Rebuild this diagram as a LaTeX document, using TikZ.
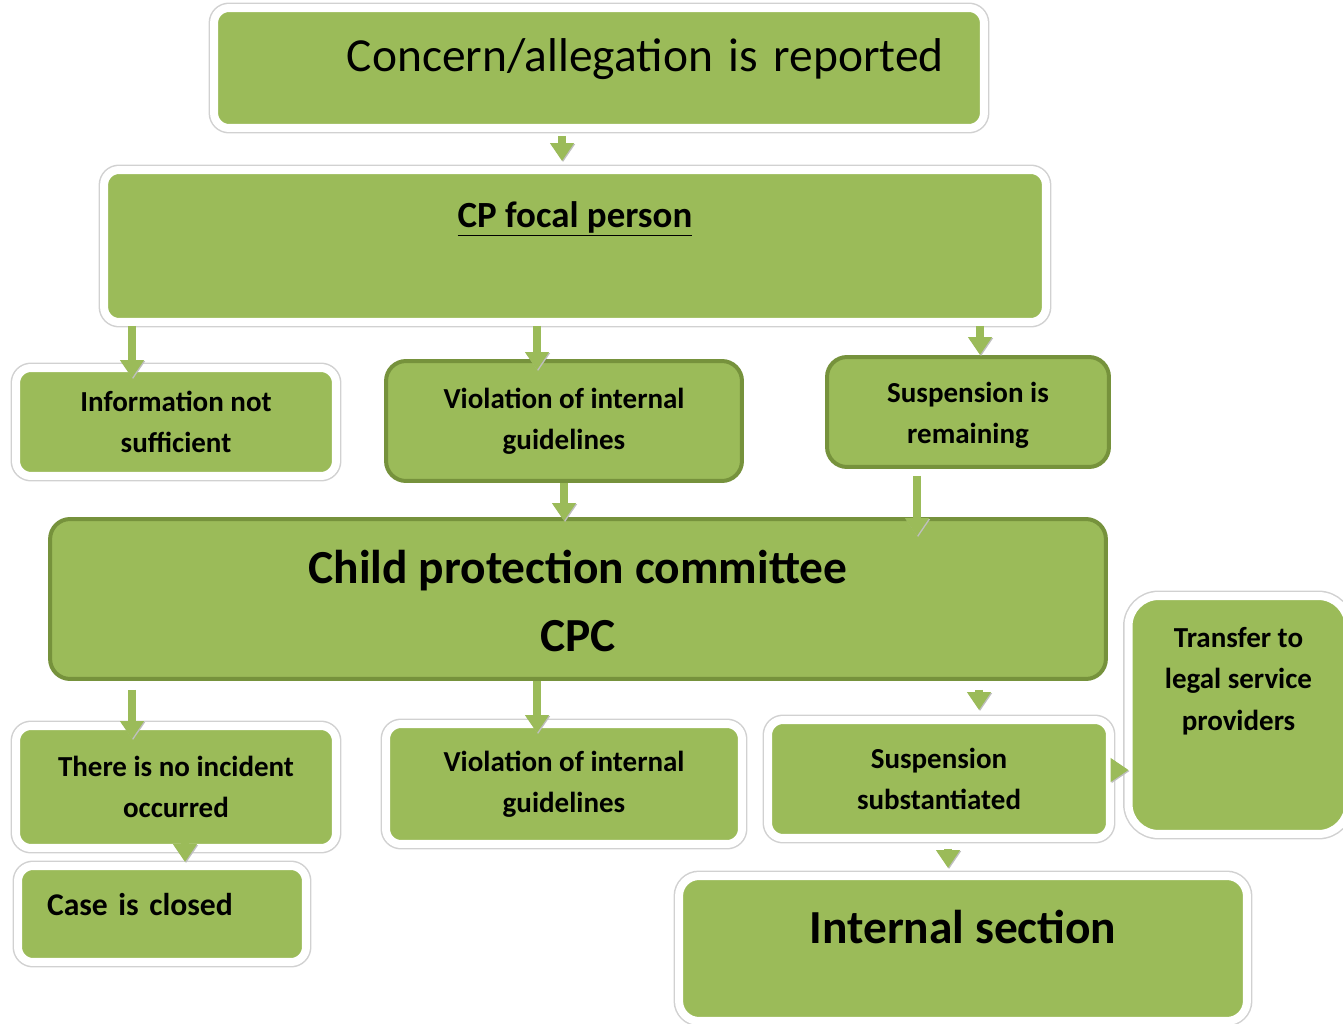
\documentclass[tikz,border=0pt]{standalone}
\usepackage{fontspec}
\setmainfont{Carlito}
\usetikzlibrary{arrows.meta}
\definecolor{boxgreen}{HTML}{9BBB59}
\definecolor{boxedge}{HTML}{76923C}
\tikzset{
  greenbox/.style={fill=boxgreen, rounded corners=0.3cm, align=center, inner sep=0pt,
    font=\fontsize{16.5}{23.5}\selectfont\bfseries},
  whitebox/.style={greenbox, draw=white, line width=0.16cm,
    preaction={draw=black!18, line width=0.22cm}},
  darkbox/.style={greenbox, draw=boxedge, line width=0.08cm, rounded corners=0.4cm},
  arr/.style={draw=boxgreen, line width=0.16cm, -{Triangle[width=0.46cm,length=0.36cm]},
    preaction={draw=black!25, transform canvas={xshift=0.6pt,yshift=-0.6pt}}},
}
\begin{document}
\begin{tikzpicture}[x=0.02cm, y=-0.02cm]
    \useasboundingbox (0,0) rectangle (1343,1024);
    \node[whitebox, minimum width=15.4cm, text width=13.8cm, inner xsep=0.8cm, align=right,
        text height=1.28cm, text depth=1.12cm, font=\fontsize{27}{32}\selectfont] (report) at (599,68) {Concern/allegation is reported};
    \node[whitebox, minimum width=18.84cm, text height=1.14cm, text depth=1.9cm,
        font=\fontsize{21}{25}\selectfont\bfseries] (focal) at (575,246) {\underline{CP focal person}};
    \node[whitebox, minimum width=6.4cm, minimum height=2.16cm] (info) at (176,422) {Information not\\sufficient};
    \node[darkbox, minimum width=7.12cm, minimum height=2.4cm] (viola) at (564,421) {Violation of internal\\guidelines};
    \node[darkbox, minimum width=5.64cm, text height=1.74cm, text depth=0.46cm] (suspa) at (968,412) {Suspension is\\remaining};
    \node[darkbox, minimum width=21.12cm, text height=2.66cm, text depth=0.54cm,
        font=\fontsize{27}{39}\selectfont\bfseries] (cpc) at (578,599) {Child protection committee\\CPC};
    \node[whitebox, minimum width=6.4cm, minimum height=2.44cm] (noinc) at (176,787) {There is no incident\\occurred};
    \node[whitebox, minimum width=7.12cm, minimum height=2.4cm] (violb) at (564,784) {Violation of internal\\guidelines};
    \node[whitebox, minimum width=6.84cm, minimum height=2.36cm] (suspb) at (939,779) {Suspension\\substantiated};
    \node[whitebox, minimum width=5.76cm, text width=4.6cm, inner xsep=0.58cm, align=left,
        text height=0.98cm, text depth=0.94cm, font=\fontsize{18}{22}\selectfont\bfseries] (closed) at (162,914) {Case is closed};
    \node[whitebox, rounded corners=0.6cm, minimum width=4.4cm, text height=2.68cm, text depth=2.08cm] (transfer) at (1238.5,715) {Transfer to\\legal service\\providers};
    \node[whitebox, rounded corners=0.4cm, minimum width=11.36cm, text height=1.34cm, text depth=1.56cm,
        font=\fontsize{27}{32}\selectfont\bfseries] (internal) at (963,948.5) {Internal section};

    \draw[arr, shorten <=0.08cm, shorten >=0.1cm] ([xshift=-0.74cm]report.south) -- ([xshift=-0.74cm]report.south |- focal.north);
    \draw[arr] ([xshift=-0.88cm]info.north |- focal.south) -- ([xshift=-0.88cm,yshift=-0.28cm]info.north);
    \draw[arr] ([xshift=-0.54cm]viola.north |- focal.south) -- ([xshift=-0.54cm,yshift=-0.22cm]viola.north);
    \draw[arr] ([xshift=0.24cm]suspa.north |- focal.south) -- ([xshift=0.24cm]suspa.north);
    \draw[arr] (viola.south) -- ([yshift=-0.08cm]viola.south |- cpc.north);
    \draw[arr] ([xshift=-1.02cm,yshift=-0.14cm]suspa.south) -- ([xshift=-1.02cm,yshift=-0.38cm]suspa.south |- cpc.north);
    \draw[arr] ([xshift=-0.88cm,yshift=-0.18cm]noinc.north |- cpc.south) -- ([xshift=-0.88cm,yshift=-0.34cm]noinc.north);
    \draw[arr] ([xshift=-0.54cm]violb.north |- cpc.south) -- ([xshift=-0.54cm,yshift=-0.26cm]violb.north);
    \draw[arr] ([xshift=0.8cm,yshift=-0.18cm]suspb.north |- cpc.south) -- ([xshift=0.8cm,yshift=0.12cm]suspb.north);
    \draw[arr] ([xshift=0.18cm,yshift=0.2cm]noinc.south) -- ([xshift=0.18cm]noinc.south |- closed.north);
    \draw[arr] ([yshift=0.18cm]suspb.east) -- ([yshift=0.18cm,xshift=0.08cm]suspb.east -| transfer.west);
    \draw[arr] ([xshift=0.18cm,yshift=-0.14cm]suspb.south) -- ([xshift=0.18cm,yshift=0.08cm]suspb.south |- internal.north);
\end{tikzpicture}
\end{document}
